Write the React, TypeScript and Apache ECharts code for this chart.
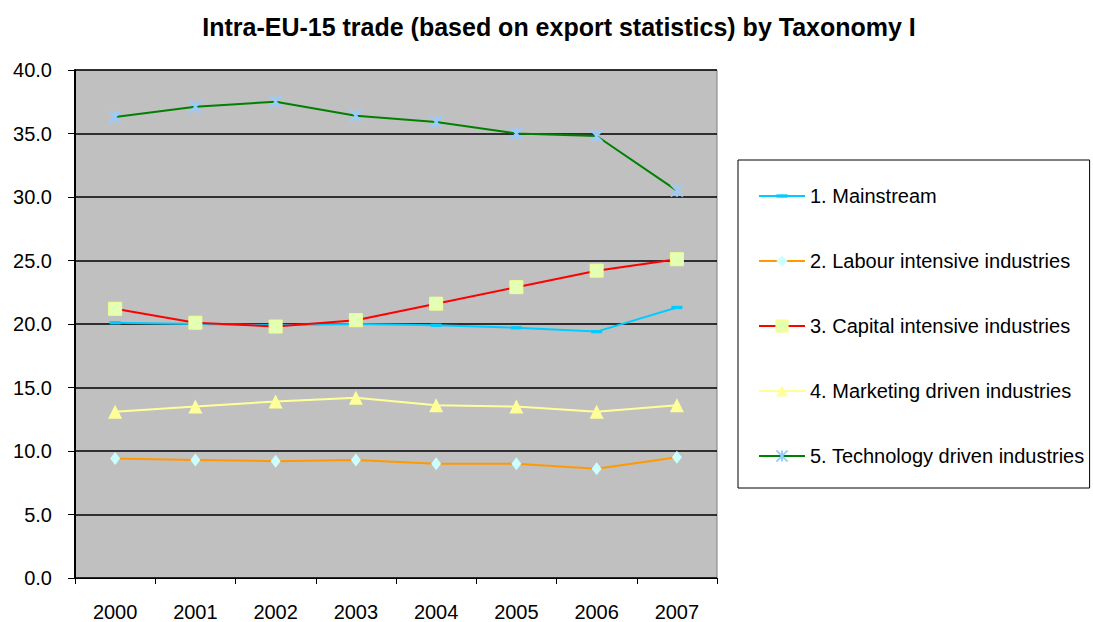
import React, { useEffect, useRef } from "react";
import * as echarts from "echarts";

const years = ["2000", "2001", "2002", "2003", "2004", "2005", "2006", "2007"];
const mainstream = [20.1, 20.0, 19.9, 20.0, 19.9, 19.7, 19.4, 21.3];
const labour = [9.4, 9.3, 9.2, 9.3, 9.0, 9.0, 8.6, 9.5];
const capital = [21.2, 20.1, 19.8, 20.3, 21.6, 22.9, 24.2, 25.1];
const marketing = [13.1, 13.5, 13.9, 14.2, 13.6, 13.5, 13.1, 13.6];
const technology = [36.3, 37.1, 37.5, 36.4, 35.9, 35.0, 34.8, 30.5];
const seriesNames = [
  "1. Mainstream",
  "2. Labour intensive industries",
  "3. Capital intensive industries",
  "4. Marketing driven industries",
  "5. Technology driven industries",
];
const yMin = 0;
const yMax = 40;
const yStep = 5;

const FONT = "'Liberation Sans', Arial, sans-serif";

export default function App() {
  const ref = useRef<HTMLDivElement>(null);
  useEffect(() => {
    document.body.style.margin = "0";
    const chart = echarts.init(ref.current as HTMLDivElement, null, { renderer: "svg" });
    chart.setOption({
      animation: false,
      backgroundColor: "#ffffff",
      title: {
        text: "Intra-EU-15 trade (based on export statistics) by Taxonomy I",
        left: 554,
        textAlign: "center",
        top: 9,
        textStyle: { fontFamily: FONT, fontSize: 25, fontWeight: "bold", color: "#000" },
      },
      grid: {
        left: 75,
        right: 376,
        top: 70,
        bottom: 44,
        show: true,
        backgroundColor: "#C0C0C0",
        borderColor: "#808080",
        borderWidth: 1,
      },
      legend: {
        orient: "vertical",
        left: 738,
        top: 160,
        padding: [26, 5, 22, 20],
        itemGap: 45,
        itemWidth: 46,
        itemHeight: 14,
        borderColor: "#000",
        borderWidth: 1,
        backgroundColor: "#fff",
        textStyle: { fontFamily: FONT, fontSize: 20, lineHeight: 20, color: "#000" },
        data: seriesNames,
      },
      xAxis: {
        type: "category",
        data: years,
        boundaryGap: true,
        axisLine: { show: true, lineStyle: { color: "#000", width: 1 } },
        axisTick: { show: true, length: 6, interval: 0, lineStyle: { color: "#000" } },
        axisLabel: { fontFamily: FONT, fontSize: 20, color: "#000", margin: 24, interval: 0 },
        splitLine: { show: false },
      },
      yAxis: {
        type: "value",
        min: yMin,
        max: yMax,
        interval: yStep,
        axisLine: { show: true, lineStyle: { color: "#000", width: 2 } },
        axisTick: { show: true, length: 7, inside: false, lineStyle: { color: "#000" } },
        axisLabel: {
          fontFamily: FONT,
          fontSize: 20,
          color: "#000",
          margin: 23,
          formatter: (v: number) => v.toFixed(1),
        },
        splitLine: { show: true, lineStyle: { color: "#000", width: 1.6 } },
      },
      series: [
        {
          name: seriesNames[0],
          type: "line",
          data: mainstream,
          symbol: "path://M0,0M10,10M0,3.5L10,3.5L10,6.5L0,6.5Z",
          symbolSize: 11,
          lineStyle: { color: "#00CCFF", width: 2 },
          itemStyle: { color: "#00CCFF" },
        },
        {
          name: seriesNames[1],
          type: "line",
          data: labour,
          symbol: "diamond",
          symbolSize: [10, 13],
          lineStyle: { color: "#FF9900", width: 2 },
          itemStyle: { color: "#CCFFFF" },
        },
        {
          name: seriesNames[2],
          type: "line",
          data: capital,
          symbol: "rect",
          symbolSize: 13,
          lineStyle: { color: "#FF0000", width: 2 },
          itemStyle: { color: "#E2FFB4", borderColor: "#F0FF90", borderWidth: 1 },
        },
        {
          name: seriesNames[3],
          type: "line",
          data: marketing,
          symbol: "triangle",
          symbolSize: 14,
          lineStyle: { color: "#FFFF99", width: 2 },
          itemStyle: { color: "#FFFF99" },
        },
        {
          name: seriesNames[4],
          type: "line",
          data: technology,
          symbol: "path://M0,0L10,10M10,0L0,10M5,0L5,10",
          symbolSize: 12,
          lineStyle: { color: "#008000", width: 2 },
          itemStyle: { color: "#99CCFF", borderColor: "#99CCFF", borderWidth: 2 },
        },
      ],
    });
    return () => chart.dispose();
  }, []);
  return <div ref={ref} style={{ width: 1093, height: 622 }} />;
}
